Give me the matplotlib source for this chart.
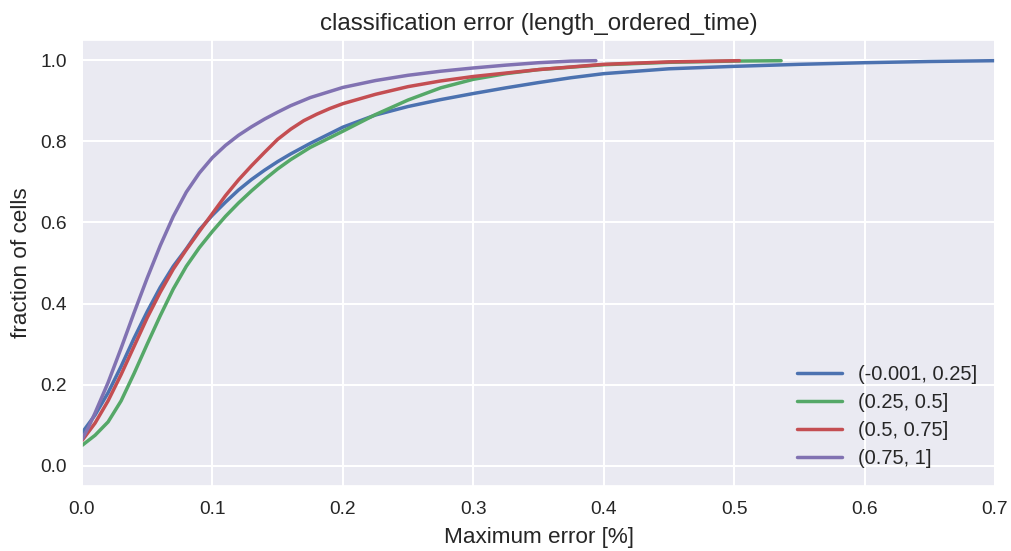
import matplotlib
matplotlib.use("Agg")
import matplotlib.pyplot as plt
import seaborn as sns

# Cumulative fraction of cells vs. maximum classification error, one curve per bin
blue_x = [0.000, 0.010, 0.020, 0.030, 0.040, 0.050, 0.060, 0.070, 0.080, 0.090,
          0.100, 0.110, 0.120, 0.130, 0.140, 0.150, 0.160, 0.175, 0.200, 0.225,
          0.250, 0.275, 0.300, 0.325, 0.350, 0.375, 0.400, 0.450, 0.500, 0.550,
          0.600, 0.650, 0.700]
blue_y = [0.081, 0.125, 0.180, 0.245, 0.315, 0.380, 0.440, 0.492, 0.535, 0.582,
          0.618, 0.650, 0.680, 0.706, 0.729, 0.750, 0.769, 0.795, 0.835, 0.865,
          0.886, 0.903, 0.918, 0.932, 0.945, 0.957, 0.967, 0.979, 0.985, 0.990,
          0.994, 0.997, 0.999]

green_x = [0.000, 0.010, 0.020, 0.030, 0.040, 0.050, 0.060, 0.070, 0.080, 0.090,
           0.100, 0.110, 0.120, 0.130, 0.140, 0.150, 0.160, 0.175, 0.200, 0.225,
           0.250, 0.275, 0.300, 0.325, 0.350, 0.400, 0.450, 0.500, 0.536]
green_y = [0.050, 0.075, 0.108, 0.160, 0.228, 0.300, 0.370, 0.436, 0.492, 0.538,
           0.578, 0.615, 0.648, 0.678, 0.706, 0.732, 0.755, 0.785, 0.825, 0.866,
           0.902, 0.932, 0.953, 0.967, 0.977, 0.989, 0.995, 0.998, 0.999]

red_x = [0.000, 0.010, 0.020, 0.030, 0.040, 0.050, 0.060, 0.070, 0.080, 0.090,
         0.100, 0.110, 0.120, 0.130, 0.140, 0.150, 0.160, 0.170, 0.180, 0.190,
         0.200, 0.225, 0.250, 0.275, 0.300, 0.350, 0.400, 0.450, 0.504]
red_y = [0.062, 0.105, 0.160, 0.225, 0.295, 0.365, 0.428, 0.485, 0.533, 0.578,
         0.622, 0.666, 0.705, 0.740, 0.773, 0.805, 0.830, 0.851, 0.867, 0.881,
         0.893, 0.916, 0.935, 0.949, 0.960, 0.977, 0.990, 0.996, 0.999]

purple_x = [0.000, 0.005, 0.010, 0.020, 0.030, 0.040, 0.050, 0.060, 0.070, 0.080,
            0.090, 0.100, 0.110, 0.120, 0.130, 0.140, 0.150, 0.160, 0.175, 0.200,
            0.225, 0.250, 0.275, 0.300, 0.325, 0.350, 0.375, 0.394]
purple_y = [0.065, 0.095, 0.130, 0.205, 0.290, 0.378, 0.463, 0.543, 0.615, 0.675,
            0.722, 0.760, 0.790, 0.815, 0.836, 0.855, 0.872, 0.888, 0.908, 0.933,
            0.950, 0.963, 0.973, 0.981, 0.988, 0.994, 0.998, 0.999]

labels = ["(-0.001, 0.25]", "(0.25, 0.5]", "(0.5, 0.75]", "(0.75, 1]"]
colors = ["#4C72B0", "#55A868", "#C44E52", "#8172B2"]

x_ticks = [0.0, 0.1, 0.2, 0.3, 0.4, 0.5, 0.6, 0.7]
y_ticks = [0.0, 0.2, 0.4, 0.6, 0.8, 1.0]

sns.set_theme(style="darkgrid")
plt.rcParams["font.family"] = ["Liberation Sans", "DejaVu Sans"]
plt.rcParams["text.color"] = "#262626"
plt.rcParams["axes.labelcolor"] = "#262626"
plt.rcParams["xtick.color"] = "#262626"
plt.rcParams["ytick.color"] = "#262626"
plt.rcParams["grid.linewidth"] = 1.5

fig = plt.figure(figsize=(10.11, 5.51), dpi=100)
ax = fig.add_axes([0.0811, 0.118, 0.9031, 0.8094])

series = [(blue_x, blue_y), (green_x, green_y), (red_x, red_y), (purple_x, purple_y)]
for (xs, ys), lab, col in zip(series, labels, colors):
    ax.plot(xs, ys, color=col, lw=2.5, label=lab, solid_joinstyle="round")

ax.set_xlim(0, 0.7)
ax.set_ylim(-0.05, 1.05)
ax.set_xticks(x_ticks)
ax.set_yticks(y_ticks)
ax.tick_params(axis="x", labelsize=13.8, pad=5)
ax.tick_params(axis="y", labelsize=13.8, pad=5)
ax.set_xlabel("Maximum error [%]", fontsize=16.2, labelpad=6)
ax.set_ylabel("fraction of cells", fontsize=16.2, labelpad=6)
ax.set_title("classification error (length_ordered_time)", fontsize=17.4, pad=7)

ax.legend(loc="lower right", frameon=False, fontsize=14.5, handlelength=2.2,
          labelspacing=0.45, borderaxespad=0.5)

fig.savefig("out.png", dpi=100)
